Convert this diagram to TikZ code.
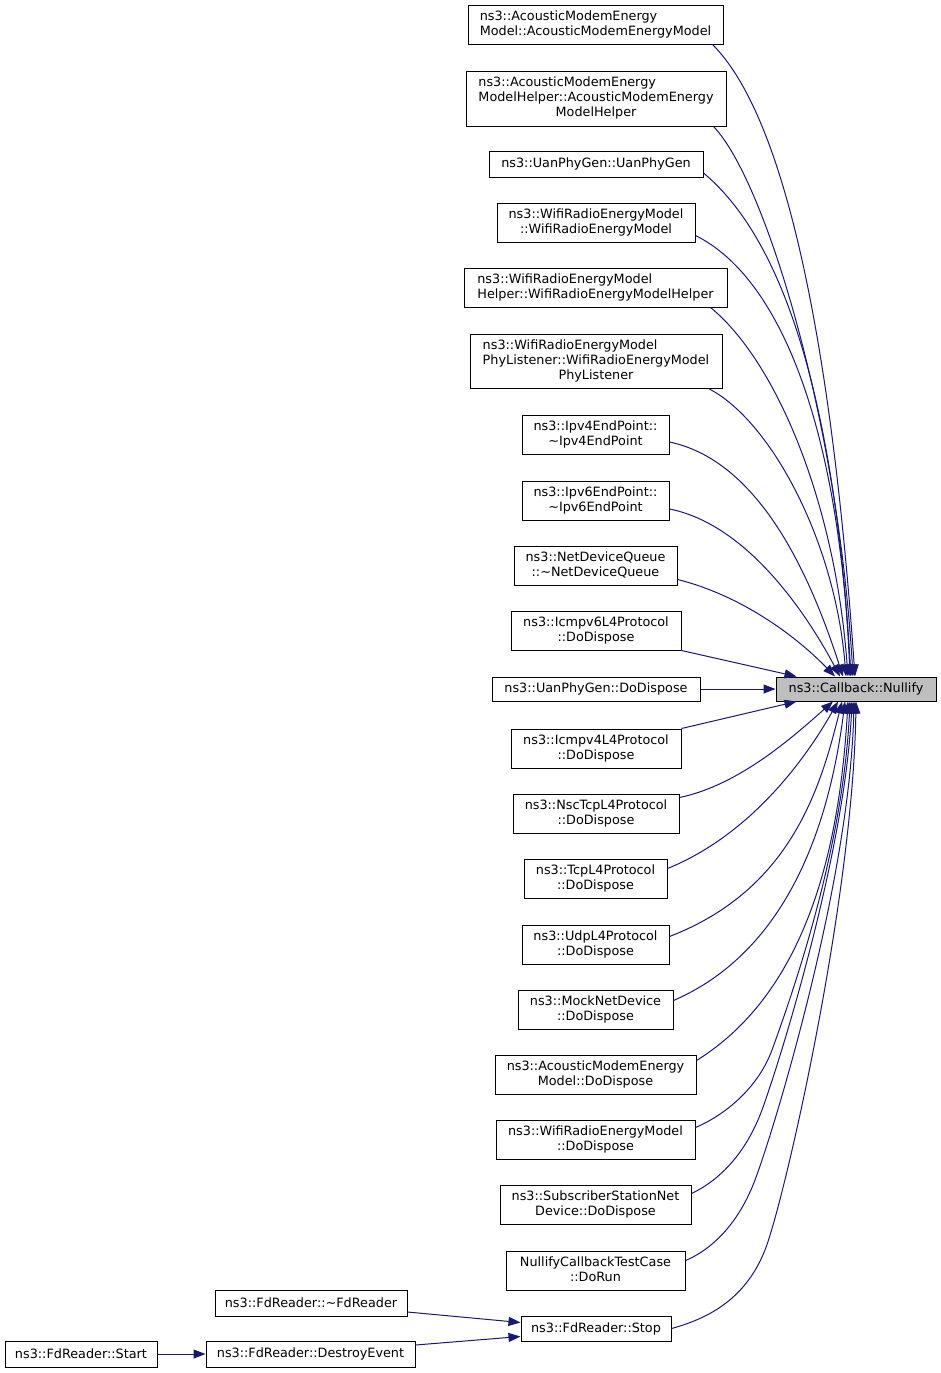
\documentclass[tikz,border=0pt]{standalone}
\usepackage{fontspec}
\setmainfont{DejaVu Sans}
\usetikzlibrary{arrows.meta,calc}
\definecolor{edgec}{HTML}{191970}
\definecolor{graynode}{HTML}{BFBFBF}
\newcommand{\dline}[2]{\begin{tabular}{@{}l@{}}#1\\\multicolumn{1}{@{}c@{}}{#2}\end{tabular}}
\newcommand{\tline}[3]{\begin{tabular}{@{}l@{}}#1\\#2\\\multicolumn{1}{@{}c@{}}{#3}\end{tabular}}
\tikzset{
  box/.style={draw=black, line width=1pt, fill=white, inner sep=0pt, anchor=center},
  edge/.style={draw=edgec, line width=1pt, -{Triangle[length=12pt,width=9pt]}}
}
\begin{document}
\begin{tikzpicture}[x=1pt,y=-1pt,font=\fontsize{12.8}{15}\selectfont]
\useasboundingbox[fill=white] (0,0) rectangle (941,1373);
% nodes
\node[box, minimum width=255pt, minimum height=39pt] (n1) at (595.5,24.5) {\dline{ns3::AcousticModemEnergy}{Model::AcousticModemEnergyModel}};
\node[box, minimum width=260pt, minimum height=55pt] (n2) at (596,98.5) {\tline{ns3::AcousticModemEnergy}{ModelHelper::AcousticModemEnergy}{ModelHelper}};
\node[box, minimum width=214pt, minimum height=26pt] (n3) at (596,164) {ns3::UanPhyGen::UanPhyGen};
\node[box, minimum width=198pt, minimum height=39pt] (n4) at (596,222.5) {\dline{ns3::WifiRadioEnergyModel}{::WifiRadioEnergyModel}};
\node[box, minimum width=263pt, minimum height=39pt] (n5) at (595.5,287.5) {\dline{ns3::WifiRadioEnergyModel}{Helper::WifiRadioEnergyModelHelper}};
\node[box, minimum width=252pt, minimum height=54pt] (n6) at (596,361) {\tline{ns3::WifiRadioEnergyModel}{PhyListener::WifiRadioEnergyModel}{PhyListener}};
\node[box, minimum width=147pt, minimum height=39pt] (n7) at (595.5,434.5) {\dline{ns3::Ipv4EndPoint::}{\textasciitilde Ipv4EndPoint}};
\node[box, minimum width=147pt, minimum height=39pt] (n8) at (595.5,500.5) {\dline{ns3::Ipv6EndPoint::}{\textasciitilde Ipv6EndPoint}};
\node[box, minimum width=163pt, minimum height=39pt] (n9) at (595.5,565.5) {\dline{ns3::NetDeviceQueue}{::\textasciitilde NetDeviceQueue}};
\node[box, minimum width=170pt, minimum height=39pt] (n10) at (596,630.5) {\dline{ns3::Icmpv6L4Protocol}{::DoDispose}};
\node[box, minimum width=208pt, minimum height=24pt] (n11) at (596,689) {ns3::UanPhyGen::DoDispose};
\node[box, minimum width=170pt, minimum height=39pt] (n12) at (596,748.5) {\dline{ns3::Icmpv4L4Protocol}{::DoDispose}};
\node[box, minimum width=166pt, minimum height=39pt] (n13) at (596,813.5) {\dline{ns3::NscTcpL4Protocol}{::DoDispose}};
\node[box, minimum width=143pt, minimum height=39pt] (n14) at (595.5,878.5) {\dline{ns3::TcpL4Protocol}{::DoDispose}};
\node[box, minimum width=147pt, minimum height=39pt] (n15) at (595.5,944.5) {\dline{ns3::UdpL4Protocol}{::DoDispose}};
\node[box, minimum width=155pt, minimum height=39pt] (n16) at (595.5,1009.5) {\dline{ns3::MockNetDevice}{::DoDispose}};
\node[box, minimum width=201pt, minimum height=39pt] (n17) at (595.5,1074.5) {\dline{ns3::AcousticModemEnergy}{Model::DoDispose}};
\node[box, minimum width=199pt, minimum height=39pt] (n18) at (595.5,1139.5) {\dline{ns3::WifiRadioEnergyModel}{::DoDispose}};
\node[box, minimum width=191pt, minimum height=39pt] (n19) at (595.5,1204.5) {\dline{ns3::SubscriberStationNet}{Device::DoDispose}};
\node[box, minimum width=179pt, minimum height=39pt] (n20) at (595.5,1270.5) {\dline{NullifyCallbackTestCase}{::DoRun}};
\node[box, minimum width=150pt, minimum height=25pt] (n21) at (596,1328.5) {ns3::FdReader::Stop};
\node[box, minimum width=192pt, minimum height=26pt] (n22) at (311,1303) {ns3::FdReader::\textasciitilde FdReader};
\node[box, minimum width=152pt, minimum height=26pt] (n23) at (81,1354) {ns3::FdReader::Start};
\node[box, minimum width=209pt, minimum height=26pt] (n24) at (310.5,1354) {ns3::FdReader::DestroyEvent};
\node[box, fill=graynode, minimum width=160pt, minimum height=24pt] (null) at (856,689) {ns3::Callback::Nullify};
% edges above
\draw[edge] ($(n1.south east)+(-11,0)$) .. controls (792,124) and (834,377) .. ($(null.north)+(-1,0)$);
\draw[edge] ($(n2.south east)+(-13,0)$) .. controls (765,180) and (838,420) .. ($(null.north)+(-3,0)$);
\draw[edge] ($(n3.east)+(0,9)$) .. controls (790,245) and (836,420) .. ($(null.north)+(-5,0)$);
\draw[edge] ($(n4.east)+(0,13)$) .. controls (785,280) and (840,440) .. ($(null.north)+(-6,0)$);
\draw[edge] ($(n5.south east)+(-17,0)$) .. controls (775,360) and (835,500) .. ($(null.north)+(-8,0)$);
\draw[edge] ($(n6.south east)+(-14,0)$) .. controls (770,420) and (835,540) .. ($(null.north)+(-10,0)$);
\draw[edge] ($(n7.east)+(0,7.5)$) .. controls (765,462) and (815,590) .. ($(null.north)+(-13,0)$);
\draw[edge] ($(n8.east)+(0,8.5)$) .. controls (750,525) and (810,620) .. ($(null.north)+(-16,0)$);
\draw[edge] ($(n9.east)+(0,14)$) .. controls (740,595) and (795,635) .. ($(null.north)+(-21,0)$);
\draw[edge] (n10.south east) -- ($(null.north west)+(21,0)$);
\draw[edge] (n11.east) -- (null.west);
\draw[edge] (n12.north east) -- ($(null.south west)+(21,0)$);
% edges below
\draw[edge] ($(n13.east)+(0,-16)$) .. controls (740,785) and (795,735) .. ($(null.south)+(-23,0)$);
\draw[edge] ($(n14.east)+(0,-10)$) .. controls (750,835) and (805,760) .. ($(null.south)+(-18,0)$);
\draw[edge] ($(n15.east)+(0,-8)$) .. controls (790,890) and (820,790) .. ($(null.south)+(-14,0)$);
\draw[edge] ($(n16.east)+(0,-9)$) .. controls (790,950) and (830,820) .. ($(null.south)+(-11,0)$);
\draw[edge] ($(n17.east)+(0,-14)$) .. controls (810,990) and (840,840) .. ($(null.south)+(-8,0)$);
\draw[edge] ($(n18.east)+(0,-12)$) .. controls (725,1115) and (758,1088) .. (772,1050)
  .. controls (792,995) and (843,850) .. ($(null.south)+(-6,0)$);
\draw[edge] ($(n19.east)+(0,-11)$) .. controls (720,1180) and (746,1153) .. (762,1110)
  .. controls (782,1055) and (845,850) .. ($(null.south)+(-4,0)$);
\draw[edge] ($(n20.east)+(0,-10)$) .. controls (715,1248) and (740,1220) .. (755,1180)
  .. controls (774,1130) and (850,880) .. ($(null.south)+(-2,0)$);
\draw[edge] (n21.east) .. controls (710,1318) and (746,1298) .. (765,1250)
  .. controls (784,1202) and (853,900) .. (null.south);
% FdReader edges
\draw[edge] ($(n22.east)+(0,9)$) -- ($(n21.west)+(0,-6)$);
\draw[edge] ($(n24.east)+(0,-9)$) -- ($(n21.west)+(0,8)$);
\draw[edge] (n23.east) -- (n24.west);
\end{tikzpicture}
\end{document}
